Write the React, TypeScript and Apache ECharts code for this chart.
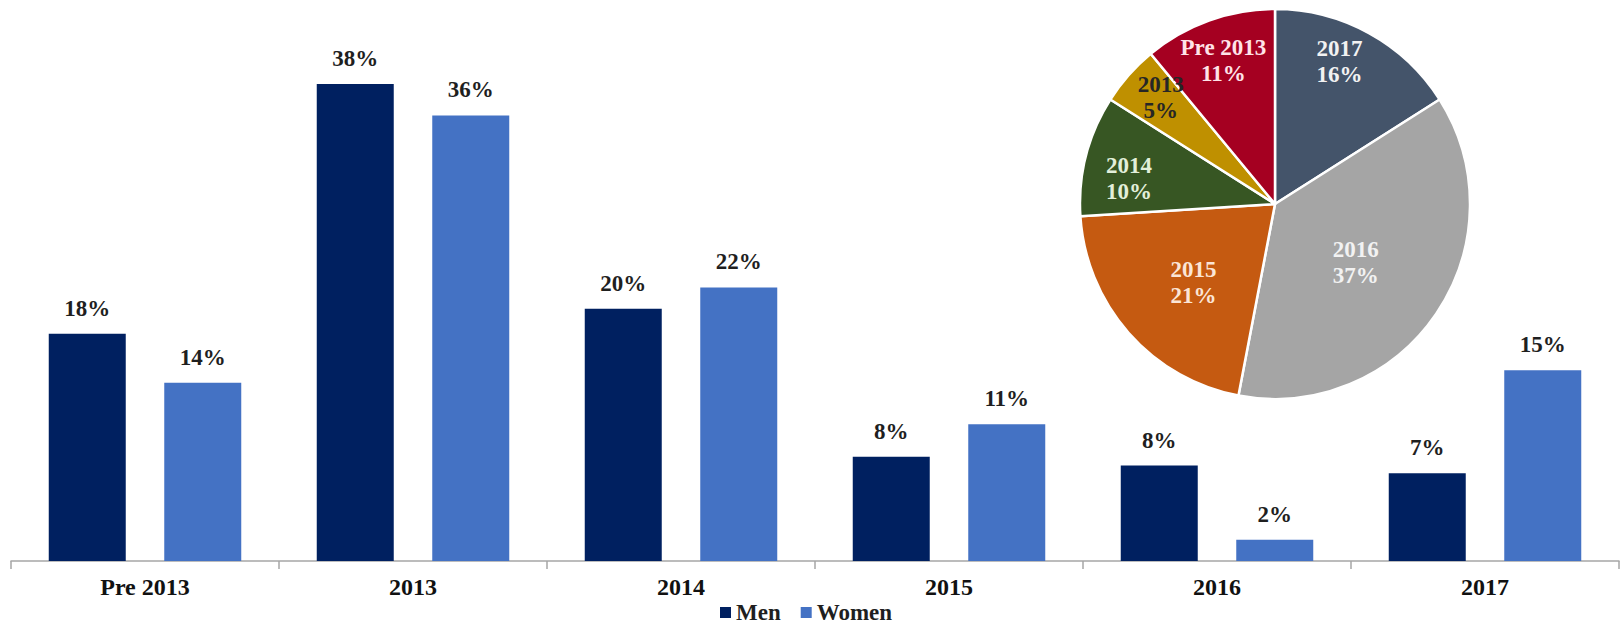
import React, { useEffect, useRef } from "react";
import * as echarts from "echarts";

const categories = ["Pre 2013", "2013", "2014", "2015", "2016", "2017"];
const menValues = [18.1, 38.0, 20.1, 8.3, 7.6, 7.0];
const womenValues = [14.2, 35.5, 21.8, 10.9, 1.7, 15.2];

const pieNames = ["2017", "2016", "2015", "2014", "2013", "Pre 2013"];
const pieValues = [16, 37, 21, 10, 5, 11];
const pieColors = ["#44546A", "#A5A5A5", "#C55A11", "#375623", "#BF9000", "#A50021"];
const pieLabelColors = ["#F2F2F2", "#F2F2F2", "#FBE5D6", "#E2EFDA", "#262626", "#FFE3E8"];
const pieLabelRadius = [0.8, 0.51, 0.58, 0.76, 0.8, 0.78];
const pieLabelAngleShift = [-4.4, 1.5, -2.5, -4.4, 1.5, 0];

const FONT = "'Liberation Serif', 'Times New Roman', serif";
const PIE_CX = 1275;
const PIE_CY = 204;
const PIE_R = 195;

export default function App() {
  const ref = useRef<HTMLDivElement>(null);
  useEffect(() => {
    if (!ref.current) return;
    const chart = echarts.init(ref.current, undefined, { renderer: "svg" });
    const barLabel = {
      show: true,
      position: "top",
      distance: 14,
      fontFamily: FONT,
      fontWeight: "bold",
      fontSize: 23,
      color: "#1f1f1f",
      formatter: (p: any) => Math.round(p.value) + "%",
    };
    chart.setOption({
      animation: false,
      backgroundColor: "#ffffff",
      legend: {
        data: ["Men", "Women"],
        left: 720,
        top: 601,
        padding: 0,
        itemWidth: 11,
        itemHeight: 11,
        itemGap: 20,
        icon: "rect",
        textStyle: {
          fontFamily: FONT,
          fontWeight: "bold",
          fontSize: 23,
          lineHeight: 22,
          color: "#1f1f1f",
        },
      },
      grid: { left: 11, right: 2, top: 59, bottom: 67, containLabel: false },
      xAxis: {
        type: "category",
        data: categories,
        axisLine: { lineStyle: { color: "#A6A6A6", width: 1.5 } },
        axisTick: { show: true, length: 8, lineStyle: { color: "#A6A6A6", width: 1.5 } },
        axisLabel: { margin: 14, fontFamily: FONT, fontWeight: "bold", fontSize: 24, color: "#111" },
      },
      yAxis: {
        type: "value",
        min: 0,
        max: 40,
        show: false,
        splitLine: { show: false },
      },
      series: [
        {
          name: "Men",
          type: "bar",
          data: menValues,
          barWidth: 77,
          barGap: "50%",
          itemStyle: { color: "#002060" },
          label: barLabel,
        },
        {
          name: "Women",
          type: "bar",
          data: womenValues,
          barWidth: 77,
          barGap: "50%",
          itemStyle: { color: "#4472C4" },
          label: barLabel,
        },
        {
          name: "share",
          type: "pie",
          center: [PIE_CX, PIE_CY],
          radius: [0, PIE_R],
          startAngle: 90,
          clockwise: true,
          avoidLabelOverlap: false,
          itemStyle: { borderColor: "#ffffff", borderWidth: 2.5 },
          label: {
            show: true,
            position: "inside",
            fontFamily: FONT,
            fontWeight: "bold",
            fontSize: 23,
            lineHeight: 26,
            formatter: (p: any) => p.name + "\n" + p.value + "%",
          },
          labelLine: { show: false },
          labelLayout: (params: any) => {
            const r = params.labelRect;
            const lx = r.x + r.width / 2;
            const ly = r.y + r.height / 2;
            const i = params.dataIndex;
            const a = Math.atan2(ly - PIE_CY, lx - PIE_CX) + (pieLabelAngleShift[i] * Math.PI) / 180;
            const d = pieLabelRadius[i] * PIE_R;
            const nx = PIE_CX + d * Math.cos(a);
            const ny = PIE_CY + d * Math.sin(a);
            return { dx: nx - lx, dy: ny - ly };
          },
          data: pieNames.map((n, i) => ({
            name: n,
            value: pieValues[i],
            itemStyle: { color: pieColors[i] },
            label: { color: pieLabelColors[i] },
          })),
        },
      ],
    });
    return () => chart.dispose();
  }, []);
  return (
    <div
      ref={ref}
      style={{ position: "absolute", left: 0, top: 0, width: 1621, height: 628 }}
    />
  );
}
